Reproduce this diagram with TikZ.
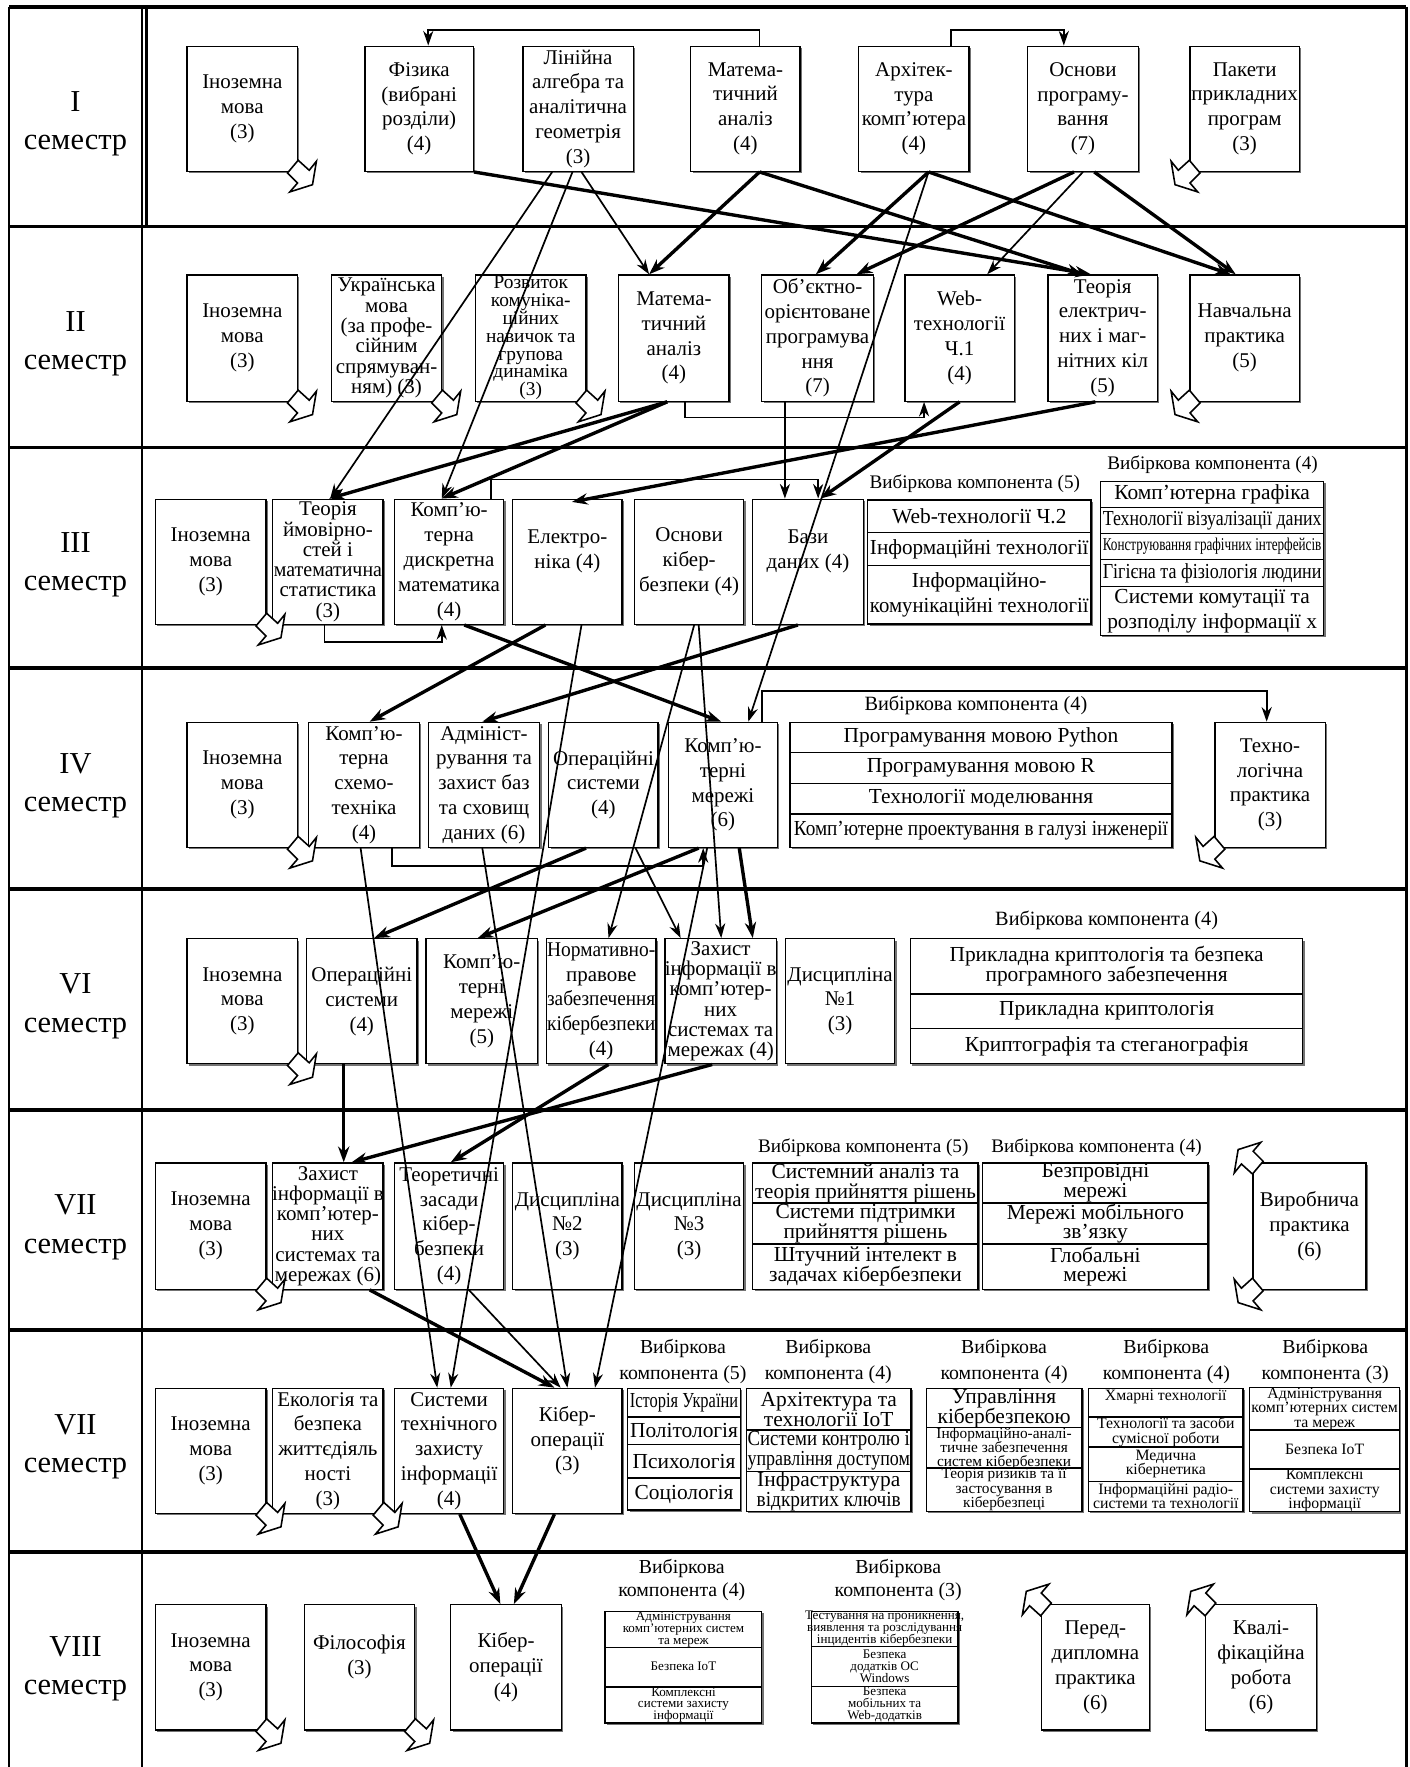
\documentclass[tikz,border=0pt]{standalone}
\usepackage{fontspec}
\setmainfont{Liberation Serif}
\usepackage{graphicx}
\usetikzlibrary{arrows.meta,calc,shadows}

\newsavebox\fitbox
\newlength\fitlen
\newcommand\fitx[2]{\sbox\fitbox{#2}\setlength\fitlen{\wd\fitbox}\pgfmathsetmacro\fitr{min(1,(#1)/\fitlen)}\scalebox{\fitr}[1]{\usebox\fitbox}}
\newcommand\ffA{\fontsize{9.3}{11}\selectfont}
\newcommand\ffB{\fontsize{9.3}{9}\selectfont}
\newcommand\ffC{\fontsize{8.6}{7.9}\selectfont}
\newcommand\ffD{\fontsize{9.5}{11}\selectfont}
\newcommand\ffE{\fontsize{9.5}{8.8}\selectfont}
\newcommand\ffF{\fontsize{7}{6.4}\selectfont}
\newcommand\ffG{\fontsize{5.8}{5.3}\selectfont}
\newcommand\bx[7][\ffA]{\node[bx,minimum width={(#5-#3)*0.5pt},minimum height={(#6-#4)*0.5pt}] (#2) at ({(#3+#5)/2},{(#4+#6)/2}) {\makebox[0pt]{\parbox{300pt}{\centering#1\lineskiplimit=-100pt\relax #7}}};}
\newcommand\zigz[3]{\draw[zig,shift={(#1)},xscale=#2,yscale=#3] (0,-10.4)--(9.8,-1.5)--(16.2,-9.5)--(12.7,11.3)--(-7.4,17.7)--(-0.6,9.8)--(-9.5,0.9)--cycle;}

\begin{document}
\begin{tikzpicture}[x=0.5pt,y=-0.5pt,
  bx/.style={draw, fill=white, line width=0.6pt, inner sep=0pt,
    drop shadow={shadow xshift=0.8pt, shadow yshift=-0.8pt, opacity=1, fill=black!55}},
  frm/.style={line width=1.1pt},
  rowsep/.style={line width=1.6pt},
  semlab/.style={inner sep=0pt, align=center, font=\fontsize{13.5}{17}\selectfont},
  elab/.style={inner sep=0pt, align=center, font=\fontsize{8.5}{10}\selectfont},
  elabn/.style={inner sep=0pt, align=center, font=\fontsize{9}{10}\selectfont},
  elabt/.style={inner sep=0pt, align=center, font=\fontsize{8.8}{11.5}\selectfont},
  elabv/.style={inner sep=0pt, align=center, font=\fontsize{8.8}{10.5}\selectfont},
  zig/.style={draw, fill=white, line width=0.7pt},
  tarr/.style={line width=0.75pt, -{Stealth[length=6.5pt,width=4.5pt]}},
  Tarr/.style={line width=1.5pt, -{Stealth[length=7pt,width=5pt]}}]
\useasboundingbox (0,0) rectangle (1251,1568);

% ---------- frame ----------
\draw[frm] (8,6) -- (8,1568);
\draw[frm] (1248,6) -- (1248,1568);
\draw[frm] (126,6) -- (126,1568);
\draw[frm] (130,6) -- (130,201);
\foreach \yy in {6,201,397,593,789,985,1180,1377} \draw[rowsep] (8,\yy) -- (1248,\yy);

\node[semlab] (S1) at (67,110) {I\\семестр};
\node[semlab] (S2) at (67,305) {II\\семестр};
\node[semlab] (S3) at (67,501) {III\\семестр};
\node[semlab] (S4) at (67,697) {IV\\семестр};
\node[semlab] (S5) at (67,893) {VI\\семестр};
\node[semlab] (S6) at (67,1089) {VII\\семестр};
\node[semlab] (S7) at (67,1284) {VII\\семестр};
\node[semlab] (S8) at (67,1481) {VIII\\семестр};

% ---------- row I ----------
\bx{I1}{166}{41}{264}{152}{Іноземна\\мова\\(3)}
\bx{I2}{324}{41}{420}{152}{Фізика\\(вибрані\\розділи)\\(4)}
\bx{I3}{464}{41}{562}{152}{Лінійна\\алгебра та\\аналітична\\геометрія\\(3)}
\bx{I4}{613}{41}{710}{152}{Матема-\\тичний\\аналіз\\(4)}
\bx{I5}{762}{41}{860}{152}{Архітек-\\тура\\комп'ютера\\(4)}
\bx{I6}{912}{41}{1010}{152}{Основи\\програму-\\вання\\(7)}
\bx{I7}{1056}{41}{1153}{152}{Пакети\\прикладних\\програм\\(3)}

% ---------- row II ----------
\bx{II1}{166}{244}{264}{356}{Іноземна\\мова\\(3)}
\bx[\ffB]{II2}{294}{244}{392}{356}{Українська\\мова\\(за профе-\\сійним\\спрямуван-\\ням) (3)}
\bx[\ffC]{II3}{422}{244}{520}{356}{Розвиток\\комуніка-\\ційних\\навичок та\\групова\\динаміка\\(3)}
\bx{II4}{549}{244}{647}{356}{Матема-\\тичний\\аналіз\\(4)}
\bx{II5}{676}{244}{775}{356}{Об'єктно-\\орієнтоване\\програмува\\ння\\(7)}
\bx{II6}{803}{244}{900}{356}{Web-\\технології\\Ч.1\\(4)}
\bx{II7}{930}{244}{1027}{356}{Теорія\\електрич-\\них і маг-\\нітних кіл\\(5)}
\bx{II8}{1056}{244}{1153}{356}{Навчальна\\практика\\(5)}

% ---------- row III ----------
\bx{III1}{138}{443}{236}{554}{Іноземна\\мова\\(3)}
\bx[\ffB]{III2}{242}{443}{340}{554}{Теорія\\ймовірно-\\стей і\\\fitx{48pt}{математична}\\статистика\\(3)}
\bx{III3}{350}{443}{447}{554}{Комп'ю-\\терна\\дискретна\\математика\\(4)}
\bx{III4}{455}{443}{552}{554}{Електро-\\ніка (4)\\\mbox{}}
\bx{III5}{563}{443}{660}{554}{Основи\\кібер-\\безпеки (4)}
\bx{III6}{668}{443}{766}{554}{Бази\\даних (4)\\\mbox{}}
\node[elab] (L3a) at (865,429) {Вибіркова компонента (5)};
\bx[\ffD]{E3a1}{770}{443.6}{968}{472.6}{Web-технології Ч.2}
\bx[\ffD]{E3a2}{770}{472.6}{968}{502}{\fitx{97pt}{Інформаційні технології}}
\bx[\ffD]{E3a3}{770}{502}{968}{553.6}{Інформаційно-\\\fitx{97pt}{комунікаційні технології}}
\node[elab] (L3b) at (1076,412) {Вибіркова компонента (4)};
\bx[\ffD]{E3b1}{976.5}{427.3}{1174.7}{450.4}{Комп'ютерна графіка}
\bx[\ffD]{E3b2}{976.5}{450.4}{1174.7}{473.2}{\fitx{97pt}{Технології візуалізації даних}}
\bx[\fontsize{8}{9}\selectfont]{E3b3}{976.5}{473.2}{1174.7}{496.2}{\fitx{97pt}{Конструювання графічних інтерфейсів}}
\bx[\ffD]{E3b4}{976.5}{496.2}{1174.7}{520.5}{\fitx{97pt}{Гігієна та фізіологія людини}}
\bx[\ffD]{E3b5}{976.5}{520.5}{1174.7}{564}{Системи комутації та\\розподілу інформації х}

% ---------- row IV ----------
\bx{IV1}{166}{641}{264}{752}{Іноземна\\мова\\(3)}
\bx{IV2}{274}{641}{372}{752}{Комп'ю-\\терна\\схемо-\\техніка\\(4)}
\bx{IV3}{380}{641}{479}{752}{Адмініст-\\рування та\\захист баз\\та сховищ\\даних (6)}
\bx{IV4}{487}{641}{584}{752}{Операційні\\системи\\(4)}
\bx{IV5}{593}{641}{690}{752}{Комп'ю-\\терні\\мережі\\(6)}
\node[elabn] (L4) at (866,626) {Вибіркова компонента (4)};
\bx[\ffD]{E41}{701}{641}{1040}{667.5}{Програмування мовою Python}
\bx[\ffD]{E42}{701}{667.5}{1040}{695}{Програмування мовою R}
\bx[\ffD]{E43}{701}{695}{1040}{722.2}{Технології моделювання}
\bx[\ffD]{E44}{701}{722.2}{1040}{752}{\fitx{166pt}{Комп'ютерне проектування в галузі інженерії}}
\bx{IV6}{1078}{641}{1176}{752}{Техно-\\логічна\\практика\\(3)}

% ---------- row VI ----------
\bx{VI1}{166}{833}{264}{944}{Іноземна\\мова\\(3)}
\bx{VI2}{272}{833}{370}{944}{Операційні\\системи\\(4)}
\bx{VI3}{378}{833}{477}{944}{Комп'ю-\\терні\\мережі\\(5)}
\bx{VI4}{485}{833}{582}{944}{\fitx{48pt}{Нормативно-}\\правове\\\fitx{48pt}{забезпечення}\\\fitx{48pt}{кібербезпеки}\\(4)}
\bx[\ffB]{VI5}{590}{833}{689}{944}{Захист\\інформації в\\комп'ютер-\\них\\системах та\\мережах (4)}
\bx{VI6}{697}{833}{794}{944}{Дисципліна\\№1\\(3)}
\node[elabn] (L6) at (982,817) {Вибіркова компонента (4)};
\bx[\ffE]{E61}{808}{833}{1156}{882}{Прикладна криптологія та безпека\\програмного забезпечення}
\bx[\ffD]{E62}{808}{882}{1156}{912.4}{Прикладна криптологія}
\bx[\ffD]{E63}{808}{912.4}{1156}{944}{Криптографія та стеганографія}

% ---------- row VII ----------
\bx{VII1}{138}{1032}{236}{1144}{Іноземна\\мова\\(3)}
\bx[\ffB]{VII2}{242}{1032}{340}{1144}{Захист\\інформації в\\комп'ютер-\\них\\системах та\\мережах (6)}
\bx{VII3}{350}{1032}{447}{1144}{Теоретичні\\засади\\кібер-\\безпеки\\(4)}
\bx{VII4}{455}{1032}{552}{1144}{Дисципліна\\№2\\(3)}
\bx{VII5}{563}{1032}{660}{1144}{Дисципліна\\№3\\(3)}
\node[elab] (L7a) at (766,1018) {Вибіркова компонента (5)};
\bx[\ffE]{E7a1}{668}{1032}{868}{1067.6}{Системний аналіз та\\\fitx{98pt}{теорія прийняття рішень}}
\bx[\ffE]{E7a2}{668}{1067.6}{868}{1104}{Системи підтримки\\прийняття рішень}
\bx[\ffE]{E7a3}{668}{1104}{868}{1144}{Штучний інтелект в\\задачах кібербезпеки}
\node[elab] (L7b) at (973,1018) {Вибіркова компонента (4)};
\bx[\ffE]{E7b1}{872}{1032}{1072}{1067.6}{Безпровідні\\мережі}
\bx[\ffE]{E7b2}{872}{1067.6}{1072}{1104}{Мережі мобільного\\зв'язку}
\bx[\ffE]{E7b3}{872}{1104}{1072}{1144}{Глобальні\\мережі}
\bx{VII6}{1112}{1032}{1212}{1144}{Виробнича\\практика\\(6)}

% ---------- row VII (2) ----------
\bx{W1}{138}{1232}{236}{1343}{Іноземна\\мова\\(3)}
\bx{W2}{242}{1232}{340}{1343}{Екологія та\\безпека\\життєдіяль\\ності\\(3)}
\bx{W3}{350}{1232}{447}{1343}{Системи\\технічного\\захисту\\інформації\\(4)}
\bx{W4}{455}{1232}{552}{1343}{Кібер-\\операції\\(3)\\\mbox{}}
\node[elabt] (La) at (606,1208) {Вибіркова\\компонента (5)};
\bx[\ffD]{Ea1}{557}{1232}{657}{1257.5}{\fitx{48pt}{Історія України}}
\bx[\ffD]{Ea2}{557}{1257.5}{657}{1282}{\fitx{48pt}{Політологія}}
\bx[\ffD]{Ea3}{557}{1282}{657}{1311.6}{\fitx{48pt}{Психологія}}
\bx[\ffD]{Ea4}{557}{1311.6}{657}{1340}{\fitx{48pt}{Соціологія}}
\node[elabt] (Lb) at (735,1208) {Вибіркова\\компонента (4)};
\bx[\ffE]{Eb1}{662.4}{1232}{808.4}{1268.8}{Архітектура та\\технології IoT}
\bx[\ffE]{Eb2}{662.4}{1268.8}{808.4}{1305.7}{\fitx{72pt}{Системи контролю і}\\\fitx{72pt}{управління доступом}}
\bx[\ffE]{Eb3}{662.4}{1305.7}{808.4}{1341}{\fitx{64pt}{Інфраструктура}\\\fitx{64pt}{відкритих ключів}}
\node[elabt] (Lc) at (891,1208) {Вибіркова\\компонента (4)};
\bx[\ffE]{Ec1}{822}{1232}{960}{1268}{Управління\\кібербезпекою}
\bx[\fontsize{6.8}{6.3}\selectfont]{Ec2}{822}{1268}{960}{1302.8}{Інформаційно-аналі-\\тичне забезпечення\\систем кібербезпеки}
\bx[\fontsize{6.8}{6.3}\selectfont]{Ec3}{822}{1302.8}{960}{1341}{Теорія ризиків та її\\застосування в\\кібербезпеці}
\node[elabt] (Ld) at (1035,1208) {Вибіркова\\компонента (4)};
\bx[\ffF]{Ed1}{966}{1232}{1103}{1257.5}{Хмарні технології\\\mbox{}}
\bx[\ffF]{Ed2}{966}{1257.5}{1103}{1284}{Технології та засоби\\сумісної роботи}
\bx[\ffF]{Ed3}{966}{1284}{1103}{1314.6}{Медична\\кібернетика}
\bx[\ffF]{Ed4}{966}{1314.6}{1103}{1341}{Інформаційні радіо-\\\fitx{67pt}{системи та технології}}
\node[elabt] (Le) at (1176,1208) {Вибіркова\\компонента (3)};
\bx[\ffF]{Ee1}{1109}{1232}{1242}{1268.8}{Адміністрування\\\fitx{65pt}{комп'ютерних систем}\\та мереж}
\bx[\ffF]{Ee2}{1109}{1268.8}{1242}{1304.2}{Безпека IoT}
\bx[\ffF]{Ee3}{1109}{1304.2}{1242}{1341}{Комплексні\\системи захисту\\інформації}

% ---------- row VIII ----------
\bx{V1}{138}{1424}{236}{1535}{Іноземна\\мова\\(3)}
\bx{V2}{270}{1424}{368}{1535}{Філософія\\(3)\\\mbox{}}
\bx{V3}{400}{1424}{498}{1535}{Кібер-\\операції\\(4)}
\node[elabv] (Lf) at (605,1402) {Вибіркова\\компонента (4)};
\bx[\ffG]{Ef1}{537}{1430}{676}{1462}{Адміністрування\\комп'ютерних систем\\та мереж}
\bx[\ffG]{Ef2}{537}{1462}{676}{1497}{Безпека IoT}
\bx[\ffG]{Ef3}{537}{1497}{676}{1529}{Комплексні\\системи захисту\\інформації}
\node[elabv] (Lg) at (797,1402) {Вибіркова\\компонента (3)};
\bx[\ffG]{Eg1}{720}{1430}{850}{1461}{Тестування на проникнення,\\виявлення та розслідування\\інцидентів кібербезпеки}
\bx[\ffG]{Eg2}{720}{1461}{850}{1496.5}{Безпека\\додатків ОС\\Windows}
\bx[\ffG]{Eg3}{720}{1496.5}{850}{1529}{Безпека\\мобільних та\\Web-додатків}
\bx{V4}{924}{1424}{1020}{1535}{Перед-\\дипломна\\практика\\(6)}
\bx{V5}{1070}{1424}{1168}{1535}{Квалі-\\фікаційна\\робота\\(6)}

% ---------- notched arrows ----------
\zigz{I1.south east}{1}{1}
\zigz{I7.south west}{-1}{1}
\zigz{II1.south east}{1}{1}
\zigz{II2.south east}{1}{1}
\zigz{II3.south east}{1}{1}
\zigz{II8.south west}{-1}{1}
\zigz{III1.south east}{1}{1}
\zigz{IV1.south east}{1}{1}
\zigz{IV6.south west}{-1}{1}
\zigz{VI1.south east}{1}{1}
\zigz{VII1.south east}{1}{1}
\zigz{VII6.north west}{-1}{-1}
\zigz{VII6.south west}{-1}{1}
\zigz{W1.south east}{1}{1}
\zigz{W2.south east}{1}{1}
\zigz{V1.south east}{1}{1}
\zigz{V2.south east}{1}{1}
\zigz{V4.north west}{-1}{-1}
\zigz{V5.north west}{-1}{-1}

% ---------- connectors ----------
% row I internal
\draw[tarr] ($(I4.north)+(12.5,0)$) -- ++(0,-14) -| ($(I2.north)+(8,0)$);
\draw[tarr] ($(I5.north)+(33,0)$) -- ++(0,-14) -| ($(I6.north)+(-17,0)$);
% I -> II / III / IV
\draw[Tarr] (I2.south east) -- ($(II7.north)+(-10.5,0)$);
\draw[Tarr] ($(I4.south)+(12.5,0)$) -- ($(II4.north)+(-22,0)$);
\draw[Tarr] ($(I4.south)+(12.5,0)$) -- ($(II7.north)+(-18,0)$);
\draw[tarr] ($(I3.south)+(-23,0)$) -- ($(III2.north)+(2,0)$);
\draw[tarr] ($(I3.south)+(-5,0)$) -- ($(III3.north)+(-6.5,0)$);
\draw[tarr] ($(I3.south)+(3,0)$) -- ($(II4.north)+(-22,0)$);
\draw[Tarr] ($(I5.south)+(13,0)$) -- ($(II5.north)+(-1.5,0)$);
\draw[tarr] ($(I5.south)+(13,0)$) -- ($(IV5.north)+(22.5,0)$);
\draw[Tarr] ($(I5.south)+(13,0)$) -- ($(II8.north)+(-12.5,0)$);
\draw[Tarr] ($(I6.south)+(-8,0)$) -- ($(II5.north)+(34.5,0)$);
\draw[tarr] (I6.south) -- ($(II6.north)+(24.5,0)$);
\draw[Tarr] ($(I6.south)+(10,0)$) -- ($(II8.north)+(-8,0)$);
% row II internal
\draw[tarr] ($(II4.south)+(10,0)$) -- ++(0,14) -| ($(II6.south)+(-31.5,0)$);
% II -> III
\draw[Tarr] ($(II4.south)+(-6,0)$) -- ($(III2.north)+(1,0)$);
\draw[Tarr] ($(II4.south)+(-6,0)$) -- ($(III3.north)+(-6.5,0)$);
\draw[tarr] ($(II5.south)+(-29,0)$) -- ($(III6.north)+(-20.5,0)$);
\draw[Tarr] (II6.south) -- ($(III6.north)+(11,0)$);
\draw[Tarr] ($(II7.south)+(-6.5,0)$) -- ($(III4.north)+(4,3)$);
% row III internal
\draw[tarr] ($(III3.north)+(37.5,0)$) -- ++(0,-17) -| ($(III6.north)+(9,0)$);
\draw[tarr] ($(III2.south)+(-3,0)$) -- ++(0,15) -| ($(III3.south)+(-6.5,0)$);
% III -> IV / VI / VII
\draw[Tarr] ($(III3.south)+(13.5,0)$) -- ($(IV5.north)+(-1.5,0)$);
\draw[Tarr] ($(III4.south)+(-19.5,0)$) -- ($(IV2.north)+(5,0)$);
\draw[tarr] ($(III4.south)+(12.5,0)$) -- ($(W3.north)+(1.5,0)$);
\draw[tarr] ($(III5.south)+(4.5,0)$) -- ($(VI4.north)+(6.5,0)$);
\draw[tarr] ($(III5.south)+(8.5,0)$) -- ($(VI5.north)+(0.5,0)$);
\draw[Tarr] ($(III6.south)+(-9,0)$) -- ($(IV3.north)+(-1.5,0)$);
% row IV internal
\draw[tarr] ($(IV5.north)+(34.5,0)$) -- ++(0,-27) -| ($(IV6.north)+(-3,0)$);
\draw[tarr] ($(IV2.south)+(25,0)$) -- ++(0,16) -| ($(IV5.south)+(-17.5,0)$);
% IV -> VI / VII
\draw[Tarr] ($(IV4.south)+(-15.5,0)$) -- ($(VI2.north)+(11,0)$);
\draw[Tarr] ($(IV5.south)+(-21.5,0)$) -- ($(VI3.north)+(-3.5,0)$);
\draw[tarr] ($(IV4.south)+(28.5,0)$) -- ($(VI5.north)+(-35.5,0)$);
\draw[Tarr] ($(IV5.south)+(14.5,0)$) -- ($(VI5.north)+(28.5,0)$);
\draw[tarr] ($(IV2.south)+(-3,0)$) -- ($(W3.north)+(-10.5,0)$);
\draw[tarr] ($(IV3.south)+(-1.5,0)$) -- (W4.north);
\draw[tarr] ($(IV5.south)+(-14,0)$) -- ($(W4.north)+(24.5,0)$);
% VI -> VII
\draw[Tarr] ($(VI2.south)+(-16,0)$) -- ($(VII2.north)+(14,0)$);
\draw[Tarr] ($(VI4.south)+(6.5,0)$) -- ($(VII3.north)+(1.5,0)$);
\draw[Tarr] ($(VI5.south)+(-7.5,0)$) -- ($(VII2.north)+(21,0)$);
% VII -> VII(2)
\draw[Tarr] ($(VII2.south)+(37,0)$) -- ($(W4.north)+(-11.5,0)$);
\draw[tarr] ($(VII3.south)+(17.5,0)$) -- ($(W4.north)+(-6,0)$);
% VII(2) -> VIII
\draw[Tarr] ($(W3.south)+(9.5,0)$) -- ($(V3.north)+(-5,0)$);
\draw[Tarr] ($(W4.south)+(-11.5,0)$) -- ($(V3.north)+(7,0)$);
\end{tikzpicture}
\end{document}
